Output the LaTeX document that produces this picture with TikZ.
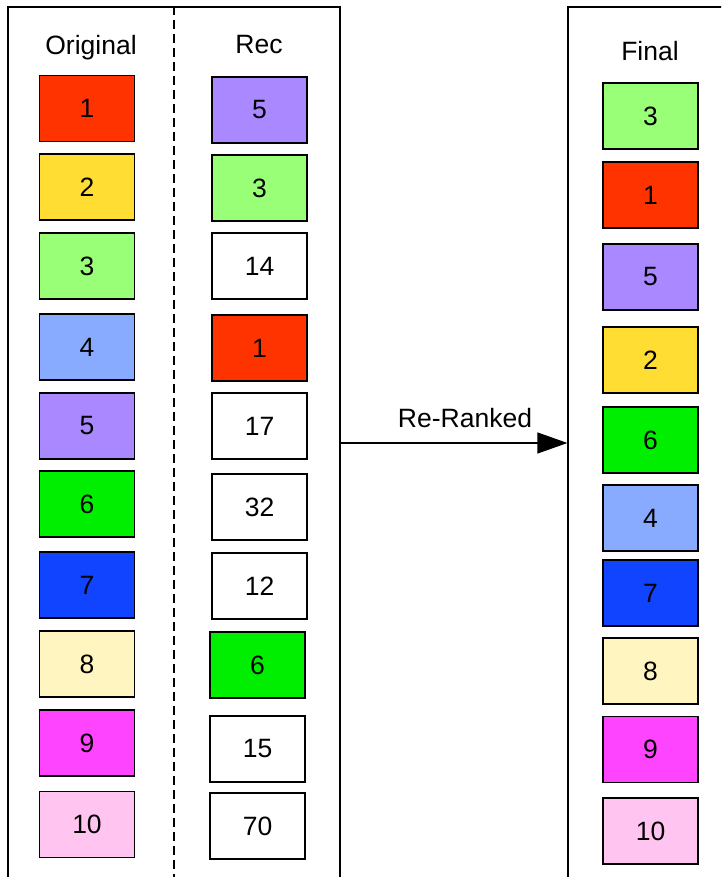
\documentclass[tikz,border=0pt]{standalone}
\usepackage{fontspec}
\setmainfont{Liberation Sans}
\usetikzlibrary{arrows.meta}

\definecolor{rankA}{HTML}{FF3300}
\definecolor{rankB}{HTML}{FFDD33}
\definecolor{rankC}{HTML}{99FF77}
\definecolor{rankD}{HTML}{88AAFF}
\definecolor{rankE}{HTML}{AA88FF}
\definecolor{rankF}{HTML}{00EE00}
\definecolor{rankG}{HTML}{1144FF}
\definecolor{rankH}{HTML}{FFF5C0}
\definecolor{rankI}{HTML}{FF44FF}
\definecolor{rankJ}{HTML}{FFC4F0}

\begin{document}
\begin{tikzpicture}[
    x=1pt, y=-1pt,
    >=Stealth,
    item/.style={rectangle, draw=black, line width=1.2pt, minimum width=95pt, minimum height=66pt, inner sep=0pt, font=\fontsize{26.5}{30}\selectfont},
    panel/.style={rectangle, draw=black, line width=1.2pt, minimum height=872pt, inner sep=0pt},
    title/.style={font=\fontsize{26.5}{30}\selectfont, inner sep=0pt, anchor=base}
]
    \useasboundingbox (0,0) rectangle (721,877);
    \clip (0,0) rectangle (721,877);

    % panels
    \node[panel, minimum width=332pt] at (174, 443) (left) {};
    \node[panel, minimum width=192pt] at (664, 443) (right) {};
    \draw[line width=1.2pt, dash pattern=on 9pt off 5pt] (left.north) -- (left.south);

    \node[title] at (91, 55) (torig) {Original};
    \node[title] at (259, 54) (trec) {Rec};
    \node[title] at (650, 61) (tfinal) {Final};

    % original list
    \node[item, fill=rankA] at (87, 108.5) (orig1) {1};
    \node[item, fill=rankB] at (87, 187) (orig2) {2};
    \node[item, fill=rankC] at (87, 266) (orig3) {3};
    \node[item, fill=rankD] at (87, 347) (orig4) {4};
    \node[item, fill=rankE] at (87, 426) (orig5) {5};
    \node[item, fill=rankF] at (87, 504) (orig6) {6};
    \node[item, fill=rankG] at (87, 585) (orig7) {7};
    \node[item, fill=rankH] at (87, 664) (orig8) {8};
    \node[item, fill=rankI] at (87, 743) (orig9) {9};
    \node[item, fill=rankJ] at (87, 824.5) (orig10) {10};

    % recommended list
    \node[item, fill=rankE] at (259.5, 110) (rec5) {5};
    \node[item, fill=rankC] at (259.5, 188) (rec3) {3};
    \node[item, fill=white] at (259.5, 266) (rec14) {14};
    \node[item, fill=rankA] at (259.5, 348) (rec1) {1};
    \node[item, fill=white] at (259.5, 426) (rec17) {17};
    \node[item, fill=white] at (259.5, 507) (rec32) {32};
    \node[item, fill=white] at (259.5, 586) (rec12) {12};
    \node[item, fill=rankF] at (257.5, 665) (rec6) {6};
    \node[item, fill=white] at (257.5, 749) (rec15) {15};
    \node[item, fill=white] at (257.5, 826) (rec70) {70};

    % final list
    \node[item, fill=rankC] at (650.5, 116) (fin3) {3};
    \node[item, fill=rankA] at (650.5, 195) (fin1) {1};
    \node[item, fill=rankE] at (650.5, 277) (fin5) {5};
    \node[item, fill=rankB] at (650.5, 360) (fin2) {2};
    \node[item, fill=rankF] at (650.5, 440) (fin6) {6};
    \node[item, fill=rankD] at (650.5, 518) (fin4) {4};
    \node[item, fill=rankG] at (650.5, 593) (fin7) {7};
    \node[item, fill=rankH] at (650.5, 671) (fin8) {8};
    \node[item, fill=rankI] at (650.5, 749.5) (fin9) {9};
    \node[item, fill=rankJ] at (650.5, 831) (fin10) {10};

    \draw[-{Triangle[length=30pt, width=21pt]}, line width=1.2pt] (left.east) -- (right.west) node[midway, title, yshift=16pt, xshift=11pt] {Re-Ranked};
\end{tikzpicture}
\end{document}
